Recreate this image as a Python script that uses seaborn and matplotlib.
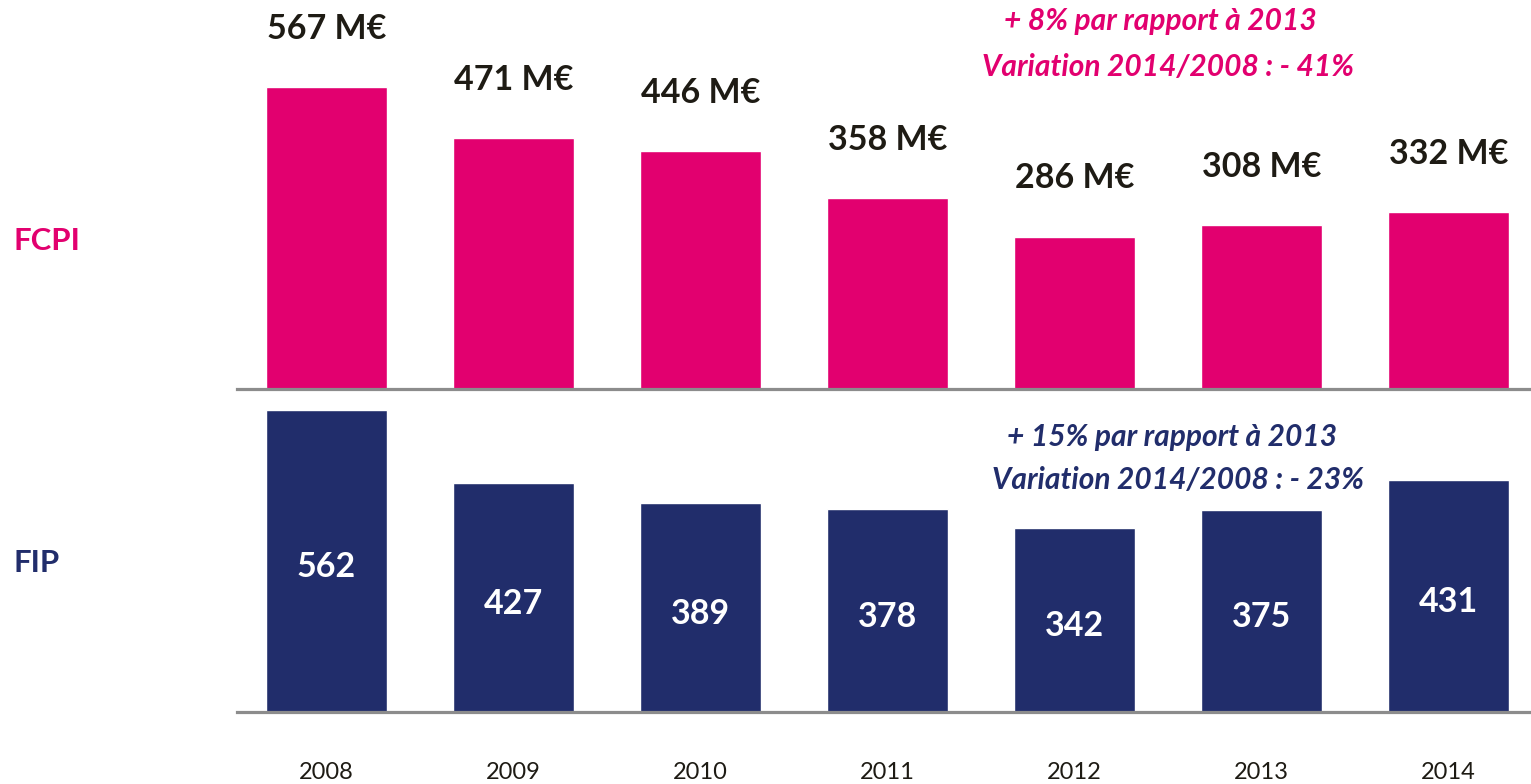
import matplotlib
matplotlib.use("Agg")
import matplotlib.pyplot as plt
import seaborn as sns
import pandas as pd

years = ["2008", "2009", "2010", "2011", "2012", "2013", "2014"]
fcpi = [567, 471, 446, 358, 286, 308, 332]
fip = [562, 427, 389, 378, 342, 375, 431]
fcpi_notes = ["+ 8% par rapport à 2013", "Variation 2014/2008 : - 41%"]
fip_notes = ["+ 15% par rapport à 2013", "Variation 2014/2008 : - 23%"]

PINK = "#E2006F"
NAVY = "#212D6B"
DARK = "#1E1B14"
GRAY = "#8C8C8C"

sns.set_theme(style="white")
plt.rcParams["font.family"] = ["Lato", "DejaVu Sans"]

W, H = 1531, 784
fig = plt.figure(figsize=(W / 100, H / 100), dpi=100)

def px_to_fig(x, y):
    return x / W, 1 - y / H

left = 237 / W
ax1 = fig.add_axes([left, 1 - 389 / H, 1 - left, 389 / H])
ax2 = fig.add_axes([left, 1 - 712 / H, 1 - left, (712 - 389) / H])

df1 = pd.DataFrame({"year": years, "value": fcpi})
df2 = pd.DataFrame({"year": years, "value": fip})

sns.barplot(data=df1, x="year", y="value", color=PINK, saturation=1,
            width=0.647, ax=ax1)
sns.barplot(data=df2, x="year", y="value", color=NAVY, saturation=1,
            width=0.647, ax=ax2)

xl = (-0.479, 6.441)
ax1.set_xlim(*xl)
ax2.set_xlim(*xl)
ax1.set_ylim(0, 389 / 0.5326)
ax2.set_ylim(0, 323 / 0.5374)

for ax in (ax1, ax2):
    for s in ("top", "right", "left"):
        ax.spines[s].set_visible(False)
    ax.spines["bottom"].set_color(GRAY)
    ax.spines["bottom"].set_linewidth(2.3)
    ax.set_yticks([])
    ax.set_xlabel("")
    ax.set_ylabel("")
    ax.patch.set_alpha(0)

ax1.set_xticks([])
ax2.tick_params(axis="x", length=0, pad=36, labelsize=17, labelcolor=DARK)

for i, v in enumerate(fcpi):
    ax1.annotate(f"{v} M€", xy=(i, v), xytext=(0, 42), textcoords="offset points",
                 ha="center", va="center", fontsize=24.5, fontweight="bold",
                 color=DARK, annotation_clip=False)

for i, v in enumerate(fip):
    ax2.annotate(f"{v}", xy=(i, v / 2), xytext=(0, -4.5), textcoords="offset points",
                 ha="center", va="center", fontsize=24.5,
                 fontweight="bold", color="white")

fig.text(*px_to_fig(13, 241), "FCPI", ha="left", va="center", fontsize=22.5,
         fontweight="bold", color=PINK)
fig.text(*px_to_fig(13, 563), "FIP", ha="left", va="center", fontsize=22.5,
         fontweight="bold", color=NAVY)

note_kw = dict(ha="center", va="center", fontsize=21.5, fontweight="bold",
               style="italic")
fig.text(*px_to_fig(1160, 21), fcpi_notes[0], color=PINK, **note_kw)
fig.text(*px_to_fig(1168, 67), fcpi_notes[1], color=PINK, **note_kw)
fig.text(*px_to_fig(1172, 437), fip_notes[0], color=NAVY, **note_kw)
fig.text(*px_to_fig(1178, 480), fip_notes[1], color=NAVY, **note_kw)

fig.savefig("out.png", dpi=100, facecolor="white")
